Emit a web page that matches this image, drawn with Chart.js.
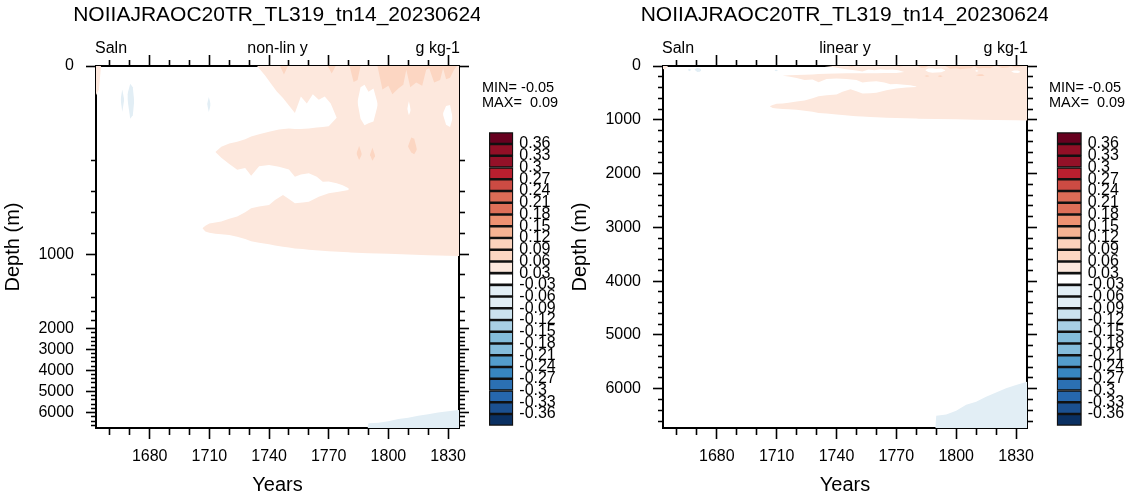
<!DOCTYPE html>
<html>
<head>
<meta charset="utf-8">
<title>Saln</title>
<script src="https://cdn.jsdelivr.net/npm/chart.js@4.4.1/dist/chart.umd.min.js"></script>
<style>
  html, body { margin: 0; padding: 0; background: #fff; }
  body { position: relative; width: 1132px; height: 499px; overflow: hidden; }
  canvas { position: absolute; }
</style>
</head>
<body>
<canvas id="panelNonLin" width="480" height="499" style="left:0;top:0"></canvas>
<canvas id="panelLin" width="481" height="499" style="left:567px;top:0"></canvas>
<canvas id="barNonLin" width="82" height="370" style="left:478px;top:70px"></canvas>
<canvas id="barLin" width="87" height="370" style="left:1045px;top:70px"></canvas>
<script>
// texts
const runName = 'NOIIAJRAOC20TR_TL319_tn14_20230624';
const varName = 'Saln';
const unitName = 'g kg-1';
const dataMin = -0.05;
const dataMax = 0.09;

// axes
const yearLabels = [1680, 1710, 1740, 1770, 1800, 1830];
const depthLabels = [0, 1000, 2000, 3000, 4000, 5000, 6000];
const yearMin = 1653, yearMax = 1835.5;
const depthMax = 6730;

// model level depths and where they sit on the non-linear axis (0 = top, 1 = bottom)
const levelDepth = [0, 200, 400, 600, 800, 1000, 1200, 1400, 1600, 1800, 2000, 3000, 4000, 5000, 6000, 6730];
const levelPos = [0, 0.2597, 0.3472, 0.4041, 0.4633, 0.5213, 0.5773, 0.6401, 0.6787, 0.7044, 0.7260, 0.7826, 0.8406, 0.8986, 0.9577, 1];

// contour levels (bottom -> top) and colours
const levelLabels = ['-0.36', '-0.33', '-0.3', '-0.27', '-0.24', '-0.21', '-0.18', '-0.15', '-0.12', '-0.09', '-0.06', '-0.03',
                     '0.03', '0.06', '0.09', '0.12', '0.15', '0.18', '0.21', '0.24', '0.27', '0.3', '0.33', '0.36'];
const levelColors = ['#0a3062', '#1b5090', '#2667ad', '#2b70b3', '#3786c0', '#539dcc', '#84bcdb', '#83bcda', '#a8cfe4',
                     '#cbe2ee', '#e1edf4', '#e2eef5', '#ffffff', '#fde8dd', '#fcd6c2', '#fbd2bc', '#f6b393', '#ee9272',
                     '#de6f58', '#dc6c56', '#cc4b43', '#b81f2f', '#941128', '#920f26', '#67001f'];
const cPos1 = '#fde8dd';   // 0.03 .. 0.06
const cPos2 = '#fcd6c2';   // 0.06 .. 0.09
const cNeg1 = '#e2eef5';   // -0.06 .. -0.03
const cZero = '#ffffff';   // -0.03 .. 0.03

// 0.03..0.06 region: surface strip, middle band, lower wedge (depth m)
const surfaceYears  = [1734, 1738, 1741, 1744, 1747, 1750, 1753, 1756, 1759, 1762, 1765, 1768, 1771, 1774, 1776, 1835.5];
const surfaceBottom = [0, 20, 38, 55, 68, 84, 100, 65, 80, 60, 72, 65, 80, 110, 250, 250];

const midYears  = [1713, 1716, 1720, 1724, 1728, 1731, 1735, 1740, 1745, 1750, 1753, 1756, 1760, 1764, 1767, 1770, 1774, 1777, 1780, 1781, 1835.5];
const midTop    = [183, 172, 165, 161, 156, 150, 145, 140, 135, 133, 134, 134, 133, 131, 130, 128, 110, 100, 100, 100, 100];
const midBottom = [183, 195, 225, 262, 250, 300, 240, 232, 243, 260, 305, 292, 284, 305, 337, 335, 347, 360, 379, 500, 500];

const wedgeYears  = [1706.5, 1708, 1710, 1713, 1716, 1720, 1724, 1728, 1731, 1735, 1740, 1743, 1747, 1750, 1753, 1757, 1760, 1765, 1770, 1775, 1780, 1781, 1790, 1800, 1810, 1820, 1830, 1835.5];
const wedgeTop    = [750, 725, 704, 695, 685, 660, 640, 600, 561, 545, 529, 480, 432, 470, 513, 505, 497, 450, 416, 400, 390, 300, 300, 300, 300, 300, 300, 300];
const wedgeBottom = [750, 780, 792, 800, 806, 812, 830, 850, 872, 885, 900, 912, 925, 932, 940, 946, 952, 960, 967, 972, 976, 979, 985, 992, 998, 1005, 1010, 1013];

const edgeYears  = [1653, 1654.5, 1655.5];
const edgeBottom = [62, 50, 0];

// 0.06..0.09 patches
const darkYears  = [1745.5, 1747.5, 1749.5, 1769.5, 1771.5, 1773.5, 1780.5, 1782.5, 1784.5, 1786, 1794.5, 1797, 1800, 1802, 1805, 1807.5, 1809, 1811, 1814, 1817, 1819, 1820.5, 1823, 1826, 1827.5, 1829, 1831, 1833, 1834.5];
const darkBottom = [0, 18, 0, 0, 16, 0, 0, 34, 30, 0, 0, 50, 42, 60, 48, 40, 8, 45, 35, 42, 8, 5, 35, 30, 5, 28, 25, 8, 0];
const darkBlobAYears = [1784, 1785.3, 1786.6], darkBlobATop = [185, 170, 186], darkBlobABottom = [187, 200, 189];
const darkBlobBYears = [1790.8, 1792, 1793.3], darkBlobBTop = [188, 174, 190], darkBlobBBottom = [190, 205, 192];
const darkBlobCYears = [1809.9, 1811.5, 1813, 1814.3], darkBlobCTop = [170, 152, 155, 176], darkBlobCBottom = [172, 184, 188, 178];

// -0.03..0.03 holes inside the positive region
const whiteAYears = [1784.5, 1786, 1788, 1790, 1792.5, 1794.6], whiteATop = [75, 45, 40, 55, 48, 80], whiteABottom = [78, 112, 126, 122, 118, 84];
const whiteBYears = [1827.5, 1829, 1831, 1832.2], whiteBTop = [100, 85, 83, 108], whiteBBottom = [104, 125, 130, 112];
const whiteCYears = [1809.5, 1810.3, 1811.2], whiteCTop = [90, 75, 92], whiteCBottom = [92, 105, 95];

// -0.06..-0.03 patches
const deepYears = [1789.5, 1790, 1795, 1800, 1805, 1810, 1815, 1820, 1825, 1830, 1835.5];
const deepTop   = [6730, 6500, 6480, 6410, 6300, 6240, 6150, 6070, 5990, 5930, 5870];
const blueAYears = [1668.8, 1670.2, 1671.5, 1672.1], blueATop = [60, 38, 45, 70], blueABottom = [70, 112, 105, 80];
const blueBYears = [1665.4, 1666.2, 1667.1], blueBTop = [70, 50, 70], blueBBottom = [72, 98, 74];
const blueCYears = [1708.9, 1709.7, 1710.6], blueCTop = [80, 66, 80], blueCBottom = [82, 98, 84];

const FONT = '"Liberation Sans", Arial, Helvetica, sans-serif';
const NARROW = '"Liberation Sans Narrow", "Liberation Sans", Arial, sans-serif';
Chart.defaults.font.family = FONT;
Chart.defaults.color = '#000';

function interp(v, xs, ys) {
  if (v <= xs[0]) return ys[0];
  for (let i = 1; i < xs.length; i++) {
    if (v <= xs[i]) return ys[i - 1] + (v - xs[i - 1]) / (xs[i] - xs[i - 1]) * (ys[i] - ys[i - 1]);
  }
  return ys[ys.length - 1];
}

// depth axis spaced by model level
class NonLinDepthScale extends Chart.LinearScale {
  static id = 'nonlinDepth';
  getPixelForValue(value) {
    return this.top + interp(value, levelDepth, levelPos) * (this.bottom - this.top);
  }
  getValueForPixel(pixel) {
    return interp((pixel - this.top) / (this.bottom - this.top), levelPos, levelDepth);
  }
}
Chart.register(NonLinDepthScale);

const yearTicks = [];
for (let y = 1660; y <= 1830; y += 10) yearTicks.push(y);
const depthTicks = [];
for (let d = 0; d <= 6600; d += 200) depthTicks.push(d);

// minor ticks are drawn shorter with a dash pattern
function tickDash(labels, outerFirst, major, minor) {
  return ctx => {
    if (ctx.tick && labels.includes(ctx.tick.value)) return [];
    return outerFirst ? [0, major - minor, minor, 60] : [minor, 60];
  };
}

function yearAxis(position, withLabels) {
  return {
    type: 'linear', position, min: yearMin, max: yearMax,
    afterBuildTicks: s => { s.ticks = yearTicks.map(value => ({value})); },
    afterFit: s => { s.height = position === 'bottom' ? 71 : 66; },
    border: {color: '#000', width: 2},
    grid: {drawOnChartArea: false, tickLength: 11, tickWidth: 1.6, tickColor: '#000',
           tickBorderDash: tickDash(yearLabels, position === 'top', 11, 6)},
    ticks: {display: withLabels, autoSkip: false, maxRotation: 0, padding: 8, font: {size: 16},
            callback: v => yearLabels.includes(v) ? String(v) : ''},
    title: {display: withLabels, text: 'Years', font: {size: 20}, padding: {top: 0, bottom: 2}}
  };
}

function depthAxis(type, position, withLabels, width) {
  return {
    type, position, min: 0, max: depthMax, reverse: type === 'linear',
    afterBuildTicks: s => { s.ticks = depthTicks.map(value => ({value})); },
    afterFit: s => { s.width = width; },
    border: {color: '#000', width: 2},
    grid: {drawOnChartArea: false, tickLength: 10, tickWidth: 1.6, tickColor: '#000',
           tickBorderDash: tickDash(depthLabels, position === 'left', 10, 5)},
    ticks: {display: withLabels, autoSkip: false, padding: 12, font: {size: 16},
            callback: v => depthLabels.includes(v) ? String(v) : ''},
    title: {display: withLabels, text: 'Depth (m)', font: {size: 20}, padding: {top: 1, bottom: 0}}
  };
}

function band(years, top, bottom, color, order) {
  const at = (arr, i) => Array.isArray(arr) ? arr[i] : arr;
  return [
    {data: years.map((x, i) => ({x, y: at(top, i)})), order, fill: false},
    {data: years.map((x, i) => ({x, y: at(bottom, i)})), order, fill: '-1', backgroundColor: color}
  ];
}

function contourDatasets() {
  return [].concat(
    band(wedgeYears, wedgeTop, wedgeBottom, cPos1, 5),
    band(midYears, midTop, midBottom, cPos1, 5),
    band(surfaceYears, 0, surfaceBottom, cPos1, 5),
    band(edgeYears, 0, edgeBottom, cPos1, 5),
    band(deepYears, deepTop, depthMax, cNeg1, 5),
    band(blueAYears, blueATop, blueABottom, cNeg1, 5),
    band(blueBYears, blueBTop, blueBBottom, cNeg1, 5),
    band(blueCYears, blueCTop, blueCBottom, cNeg1, 5),
    band(darkYears, 0, darkBottom, cPos2, 3),
    band(darkBlobAYears, darkBlobATop, darkBlobABottom, cPos2, 3),
    band(darkBlobBYears, darkBlobBTop, darkBlobBBottom, cPos2, 3),
    band(darkBlobCYears, darkBlobCTop, darkBlobCBottom, cPos2, 3),
    band(whiteAYears, whiteATop, whiteABottom, cZero, 1),
    band(whiteBYears, whiteBTop, whiteBBottom, cZero, 1),
    band(whiteCYears, whiteCTop, whiteCBottom, cZero, 1)
  );
}

const panelText = {
  id: 'panelText',
  afterDraw(chart, args, o) {
    const {ctx, chartArea: a} = chart;
    const mid = (a.left + a.right) / 2;
    ctx.save();
    ctx.fillStyle = '#000';
    ctx.textBaseline = 'alphabetic';
    ctx.font = '21px ' + FONT;
    ctx.textAlign = 'center';
    ctx.fillText(runName, mid, 21);
    ctx.font = '16px ' + FONT;
    ctx.textAlign = 'left';
    ctx.fillText(varName, a.left - 1, 53);
    ctx.textAlign = 'center';
    ctx.fillText(o.center, mid, 53);
    ctx.textAlign = 'right';
    ctx.fillText(unitName, a.right + 1, 53);
    ctx.restore();
  }
};

function makePanel(id, yType, centerText, rightWidth) {
  return new Chart(document.getElementById(id), {
    type: 'line',
    data: {datasets: contourDatasets()},
    options: {
      responsive: false, animation: false, events: [],
      layout: {padding: 0},
      elements: {line: {borderWidth: 0, tension: 0, borderColor: 'rgba(0,0,0,0)'}, point: {radius: 0}},
      plugins: {legend: {display: false}, tooltip: {enabled: false}, panelText: {center: centerText}},
      scales: {
        x: yearAxis('bottom', true),
        xTop: yearAxis('top', false),
        y: depthAxis(yType, 'left', true, 96),
        yRight: depthAxis(yType, 'right', false, rightWidth)
      }
    },
    plugins: [panelText]
  });
}

const minMaxText = {
  id: 'minMaxText',
  afterDraw(chart) {
    const ctx = chart.ctx;
    ctx.save();
    ctx.fillStyle = '#000';
    ctx.font = '14.5px ' + FONT;
    ctx.textAlign = 'left';
    ctx.textBaseline = 'alphabetic';
    ctx.fillText('MIN= ' + dataMin.toFixed(2), 4, 22);
    ctx.fillText('MAX=  ' + dataMax.toFixed(2), 4, 37);
    ctx.restore();
  }
};

function makeColorbar(id, padLeft, axisWidth) {
  return new Chart(document.getElementById(id), {
    type: 'bar',
    data: {
      labels: [''],
      datasets: levelColors.map(c => ({
        data: [1], backgroundColor: c, borderColor: '#111', borderWidth: 1.6,
        borderSkipped: false, barPercentage: 1, categoryPercentage: 1
      }))
    },
    options: {
      responsive: false, animation: false, events: [],
      layout: {padding: {left: padLeft, top: 62.3, bottom: 14.3, right: 0}},
      plugins: {legend: {display: false}, tooltip: {enabled: false}},
      scales: {
        x: {stacked: true, display: false},
        y: {
          stacked: true, position: 'right', min: 0, max: levelColors.length,
          afterBuildTicks: s => { s.ticks = levelLabels.map((t, i) => ({value: i + 1})); },
          afterFit: s => { s.width = axisWidth; },
          grid: {display: false, drawTicks: false}, border: {display: false},
          ticks: {padding: 6, autoSkip: false, font: {size: 16, family: NARROW, lineHeight: 1},
                  callback: v => levelLabels[v - 1]}
        }
      }
    },
    plugins: [minMaxText]
  });
}

makePanel('panelNonLin', 'nonlinDepth', 'non-lin y', 21);
makePanel('panelLin', 'linear', 'linear y', 21);
makeColorbar('barNonLin', 11, 46.7);
makeColorbar('barLin', 11.7, 50.3);
</script>
</body>
</html>
